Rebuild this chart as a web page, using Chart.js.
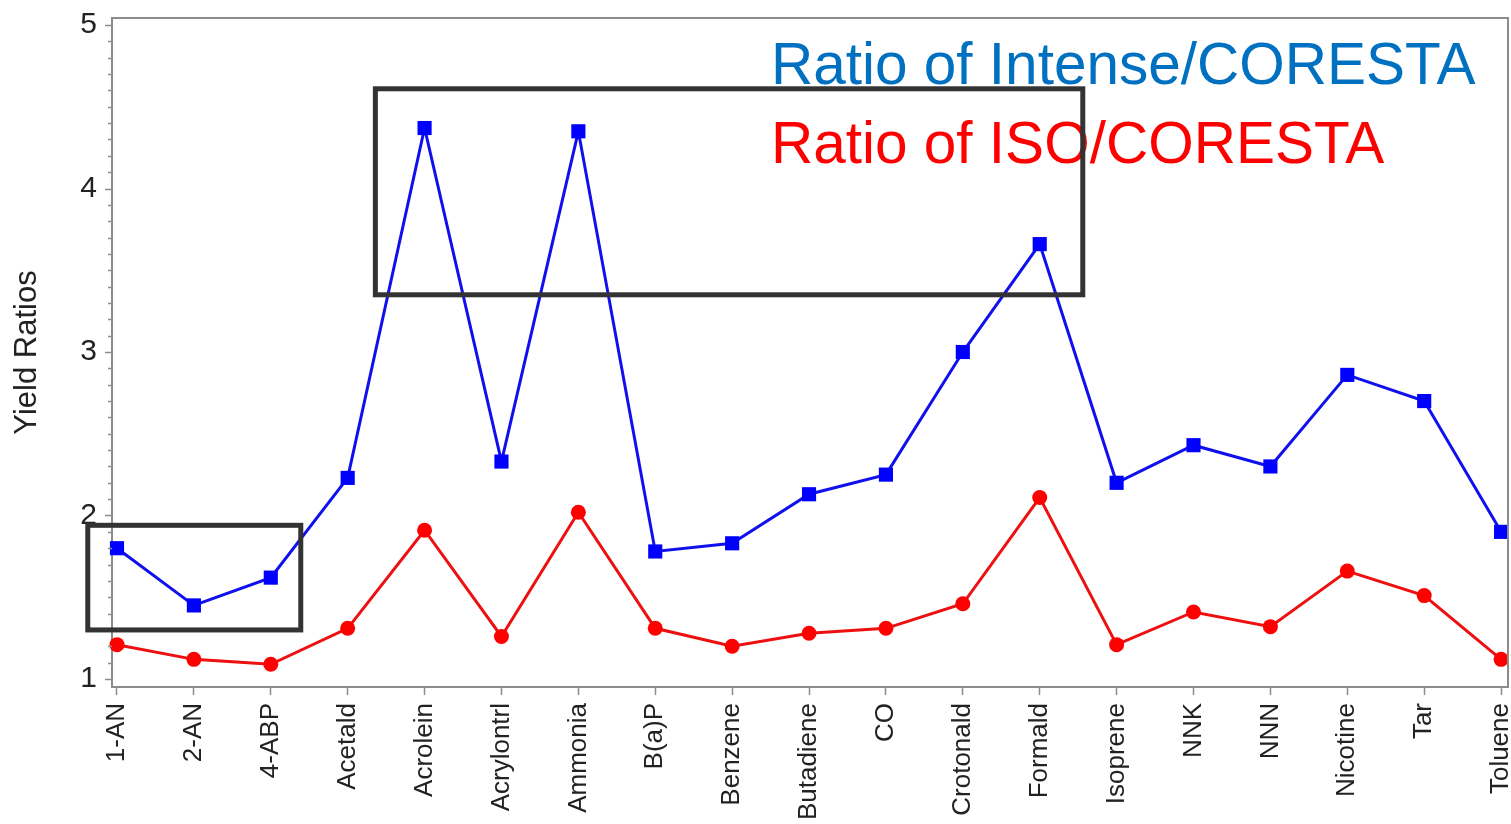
<!DOCTYPE html>
<html>
<head>
<meta charset="utf-8">
<script src="https://cdn.jsdelivr.net/npm/chart.js@4/dist/chart.umd.min.js"></script>
<style>
  html, body { margin: 0; padding: 0; background: #fff; overflow: hidden; }
  #wrap { width: 1511px; height: 824px; }
</style>
</head>
<body>
<div id="wrap"><canvas id="line-chart"></canvas></div>
<script>
const compounds = ['1-AN', '2-AN', '4-ABP', 'Acetald', 'Acrolein', 'Acrylontrl', 'Ammonia', 'B(a)P', 'Benzene',
  'Butadiene', 'CO', 'Crotonald', 'Formald', 'Isoprene', 'NNK', 'NNN', 'Nicotine', 'Tar', 'Toluene'];
const intenseRatio = [1.80, 1.45, 1.62, 2.23, 4.37, 2.33, 4.35, 1.78, 1.83, 2.13, 2.25, 3.00, 3.66, 2.20, 2.43, 2.30, 2.86, 2.70, 1.90];
const isoRatio = [1.21, 1.12, 1.09, 1.31, 1.91, 1.26, 2.02, 1.31, 1.20, 1.28, 1.31, 1.46, 2.11, 1.21, 1.41, 1.32, 1.66, 1.51, 1.12];
const yTicks = [1, 2, 3, 4, 5];

// highlight boxes, in data units: [xFrom, xTo, yFrom, yTo]
const boxes = [
  [-0.38, 2.39, 1.30, 1.94],
  [3.36, 12.56, 3.35, 4.61]
];

const axisGray = '#8c8c8c';
const font = '"Liberation Sans", Arial, sans-serif';

// keep the plot area where the reference has it
const noPad = s => { s.paddingTop = 0; s.paddingBottom = 0; s.paddingLeft = 0; s.paddingRight = 0; };

const framePlugin = {
  id: 'frame',
  afterDatasetsDraw(chart) {
    const ctx = chart.ctx;
    const a = chart.chartArea;
    const x = chart.scales.x, y = chart.scales.y;
    ctx.save();
    // top and right border
    ctx.strokeStyle = axisGray;
    ctx.lineWidth = 2;
    ctx.beginPath();
    ctx.moveTo(a.left, a.top);
    ctx.lineTo(a.right, a.top);
    ctx.lineTo(a.right, a.bottom);
    ctx.stroke();
    // y ticks, major and minor
    ctx.lineWidth = 1.5;
    for (let i = 0; i <= 40; i++) {
      const v = 1 + i / 10;
      const py = Math.round(y.getPixelForValue(v)) + 0.5;
      const len = i % 10 === 0 ? 7 : 4;
      ctx.beginPath();
      ctx.moveTo(a.left - len, py);
      ctx.lineTo(a.left, py);
      ctx.stroke();
    }
    // legend text
    ctx.font = '58.5px ' + font;
    ctx.textBaseline = 'alphabetic';
    ctx.fillStyle = '#0070C0';
    ctx.fillText('Ratio of Intense/CORESTA', 771, 84);
    ctx.fillStyle = '#FF0000';
    ctx.fillText('Ratio of ISO/CORESTA', 771, 163);
    // boxes
    ctx.strokeStyle = '#333333';
    ctx.lineWidth = 5;
    boxes.forEach(b => {
      const x1 = x.getPixelForValue(b[0]), x2 = x.getPixelForValue(b[1]);
      const y1 = y.getPixelForValue(b[2]), y2 = y.getPixelForValue(b[3]);
      ctx.strokeRect(x1, y2, x2 - x1, y1 - y2);
    });
    ctx.restore();
  }
};

const config = {
  type: 'line',
  data: {
    datasets: [
      {
        label: 'Ratio of Intense/CORESTA',
        data: intenseRatio.map((v, i) => ({ x: i, y: v })),
        borderColor: '#1010EE',
        backgroundColor: '#0000FF',
        borderWidth: 3,
        pointStyle: 'rect',
        pointRadius: 10,
        pointBorderWidth: 0,
        tension: 0,
        clip: false
      },
      {
        label: 'Ratio of ISO/CORESTA',
        data: isoRatio.map((v, i) => ({ x: i, y: v })),
        borderColor: '#EE1010',
        backgroundColor: '#FF0000',
        borderWidth: 3,
        pointStyle: 'circle',
        pointRadius: 7.5,
        pointBorderWidth: 0,
        tension: 0,
        clip: false
      }
    ]
  },
  options: {
    responsive: true,
    maintainAspectRatio: false,
    animation: false,
    events: [],
    layout: { autoPadding: false, padding: { top: 18, right: 3, left: 0, bottom: 0 } },
    plugins: { legend: { display: false }, tooltip: { enabled: false } },
    scales: {
      x: {
        type: 'linear',
        min: -0.065,
        max: 18.09,
        afterBuildTicks: s => { s.ticks = compounds.map((c, i) => ({ value: i })); },
        afterFit: s => { s.height = 137; noPad(s); },
        grid: { drawOnChartArea: false, drawTicks: true, tickLength: 8, tickColor: axisGray, tickWidth: 1.5 },
        border: { color: axisGray, width: 2 },
        ticks: {
          autoSkip: false,
          minRotation: 90,
          maxRotation: 90,
          padding: 8,
          color: '#222',
          font: { family: font, size: 26 },
          callback: v => compounds[v]
        }
      },
      y: {
        min: 0.951,
        max: 5.043,
        afterBuildTicks: s => { s.ticks = yTicks.map(v => ({ value: v })); },
        afterFit: s => { s.width = 112; noPad(s); },
        grid: { display: false, drawTicks: false },
        border: { color: axisGray, width: 2 },
        title: {
          display: true,
          text: 'Yield Ratios',
          color: '#222',
          padding: { top: 9, bottom: 0 },
          font: { family: font, size: 31 }
        },
        ticks: {
          padding: 15,
          color: '#222',
          font: { family: font, size: 30 }
        }
      }
    }
  },
  plugins: [framePlugin]
};

const myChart = new Chart(document.getElementById('line-chart'), config);
</script>
</body>
</html>
